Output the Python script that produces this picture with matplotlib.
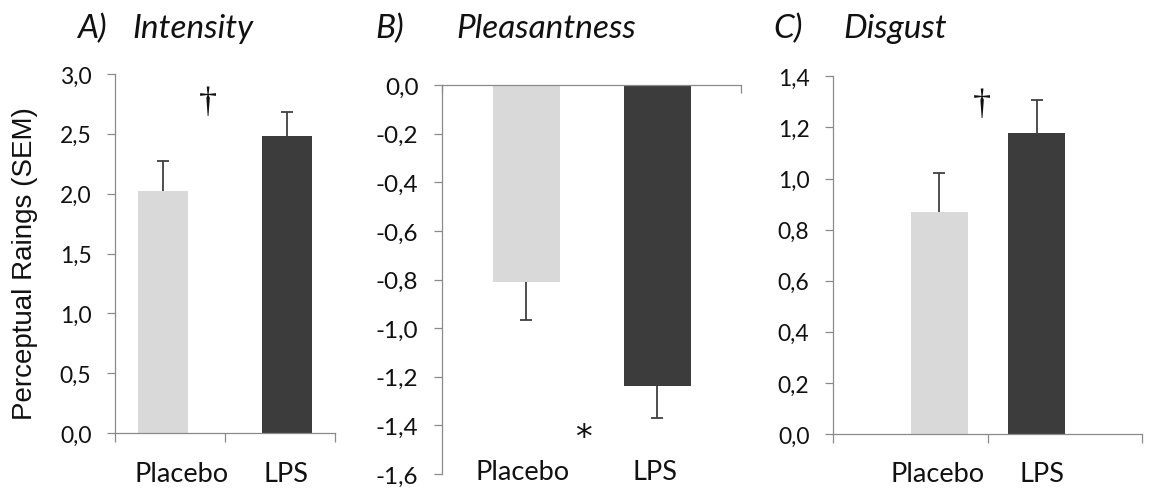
import numpy as np
import matplotlib
matplotlib.use('Agg')
import matplotlib.pyplot as plt
from matplotlib.ticker import FuncFormatter, MultipleLocator

# data
groups = ['Placebo', 'LPS']
intensity = [2.02, 2.48]
intensity_sem = [0.25, 0.20]
pleasant = [-0.81, -1.24]
pleasant_sem = [0.155, 0.128]
disgust = [0.87, 1.18]
disgust_sem = [0.153, 0.129]

c_plac = '#d9d9d9'
c_lps = '#3c3c3c'
c_axis = '#8a8a8a'
c_err = '#404040'
W, H = 1150, 489

def fx(px):
    return px / W

def fy(py):
    return 1 - py / H

def comma(v, pos):
    return f'{v:.1f}'.replace('.', ',')

fig = plt.figure(figsize=(11.5, 4.89), dpi=100)

def setup(ax, ylo, yhi, step, tsize):
    ax.set_xlim(0, 2)
    ax.set_ylim(ylo, yhi)
    ax.yaxis.set_major_locator(MultipleLocator(step))
    ax.yaxis.set_major_formatter(FuncFormatter(comma))
    for s in ax.spines.values():
        s.set_color(c_axis)
        s.set_linewidth(0.9)
    ax.tick_params(axis='y', direction='out', length=6, width=0.9, color=c_axis,
                   pad=11, labelsize=tsize, labelcolor='#111111')
    for lab in ax.get_yticklabels():
        lab.set_family('Lato')

def bars(ax, pos, vals, sem, width, up=True):
    err = [[0, 0], sem] if up else [sem, [0, 0]]
    bc = ax.bar(pos, vals, width=width, color=[c_plac, c_lps], yerr=err, capsize=4.5,
                error_kw=dict(ecolor=c_err, elinewidth=1.3, capthick=1.3))
    caps = bc.errorbar.lines[1]
    # one-sided error bars: hide the cap sitting on the bar end
    caps[0 if up else 1].set_visible(False)

# --- A) Intensity
axA = fig.add_axes([fx(115), fy(434), fx(335 - 115), (434 - 75) / H])
setup(axA, 0, 3.0, 0.5, 16.5)
bars(axA, [0.436, 1.564], intensity, intensity_sem, 0.455)
axA.spines[['top', 'right']].set_visible(False)
axA.set_xticks([0, 1, 2])
axA.set_xticklabels([])
axA.tick_params(axis='x', direction='out', length=6.5, width=0.9, color=c_axis)
axA.text(0.845, 2.76, '\u2020', ha='center', va='center', fontsize=26,
         family='Liberation Serif', color='#111111')

# --- B) Pleasantness
axB = fig.add_axes([fx(442), fy(475), fx(741 - 442), (475 - 86) / H])
setup(axB, -1.6, 0, 0.2, 17.5)
bars(axB, [0.562, 1.44], pleasant, pleasant_sem, 0.448, up=False)
axB.spines[['bottom', 'right']].set_visible(False)
axB.xaxis.set_ticks_position('top')
axB.set_xticks([0, 2])
axB.set_xticklabels([])
axB.tick_params(axis='x', direction='in', length=6, width=0.9, color=c_axis)
axB.text(0.948, -1.45, '*', ha='center', va='center', fontsize=24, color='#111111')

# --- C) Disgust
axC = fig.add_axes([fx(833), fy(435), fx(1142 - 833), (435 - 77.3) / H])
setup(axC, 0, 1.4, 0.2, 16.5)
bars(axC, [0.687, 1.32], disgust, disgust_sem, 0.369)
axC.spines[['top', 'right']].set_visible(False)
axC.set_xticks([0, 1, 2])
axC.set_xticklabels([])
axC.tick_params(axis='x', direction='out', length=6.5, width=0.9, color=c_axis)
axC.text(0.963, 1.29, '\u2020', ha='center', va='center', fontsize=26,
         family='Liberation Serif', color='#111111')

# titles
tkw = dict(fontsize=24, style='italic', family='Lato', va='baseline', ha='left', color='#111111')
fig.text(fx(77), fy(38), 'A)', **tkw)
fig.text(fx(132), fy(38), 'Intensity', **tkw)
fig.text(fx(375), fy(38), 'B)', **tkw)
fig.text(fx(456), fy(38), 'Pleasantness', **tkw)
fig.text(fx(773), fy(38), 'C)', **tkw)
fig.text(fx(843), fy(38), 'Disgust', **tkw)

# category labels
ckw = dict(fontsize=19.5, family='Lato', ha='center', va='baseline', color='#111111')
fig.text(fx(182), fy(482), groups[0], **ckw)
fig.text(fx(286), fy(482), groups[1], **ckw)
fig.text(fx(523), fy(480), groups[0], **ckw)
fig.text(fx(655), fy(480), groups[1], **ckw)
fig.text(fx(938), fy(482), groups[0], **ckw)
fig.text(fx(1042), fy(482), groups[1], **ckw)

fig.text(fx(25), fy(264), 'Perceptual Raings (SEM)', rotation=90, ha='center', va='center',
         fontsize=20, family='Liberation Sans', color='#111111')

fig.savefig('out.png', dpi=100)
